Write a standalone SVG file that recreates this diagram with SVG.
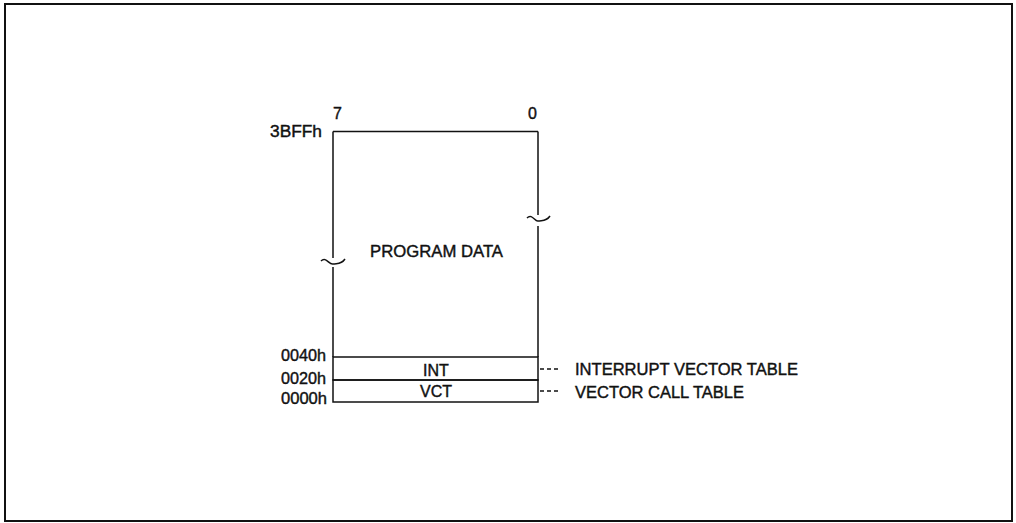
<svg xmlns="http://www.w3.org/2000/svg" width="1016" height="523" viewBox="0 0 1016 523">
<style>
text{font-family:"Liberation Sans",Arial,sans-serif;font-size:16px;fill:#111;stroke:#111;stroke-width:0.4;}
.ln{stroke:#111;stroke-width:1.5;fill:none;}
.frame{stroke:#111;stroke-width:2;fill:none;}
.dash{stroke:#111;stroke-width:1.4;stroke-dasharray:4,3;fill:none;}
.mid{text-anchor:middle;}
</style>
<rect width="1016" height="523" fill="#fff"/>
<rect class="frame" x="5" y="4" width="1007" height="517"/>
<g id="program-data">
<path class="ln" d="M333,131.5 H538 M333,131.5 V258 M333,267 V357 M538,131.5 V215 M538,226 V357"/>
<path class="ln" d="M321,261 C326,256 329,265 333,264 C337,263 341,265 345,259"/>
<path class="ln" d="M527,218 C532,213 535,222 538,221 C542,220 546,222 550,216"/>
<text x="270" y="137" textLength="52" lengthAdjust="spacingAndGlyphs">3BFFh</text>
<text x="333" y="119">7</text>
<text x="528" y="119">0</text>
<text x="370" y="257" textLength="133" lengthAdjust="spacingAndGlyphs">PROGRAM DATA</text>
</g>
<g id="int">
<rect class="ln" x="333" y="357" width="205" height="23"/>
<text class="mid" x="436" y="376">INT</text>
<text x="281" y="361" textLength="45" lengthAdjust="spacingAndGlyphs">0040h</text>
</g>
<g id="vct">
<rect class="ln" x="333" y="380" width="205" height="22"/>
<text class="mid" x="436" y="397">VCT</text>
<text x="281" y="384" textLength="45" lengthAdjust="spacingAndGlyphs">0020h</text>
<text x="281" y="404" textLength="46" lengthAdjust="spacingAndGlyphs">0000h</text>
</g>
<g id="connectors">
<path class="dash" d="M540,369 H561"/>
<path class="dash" d="M540,391 H561"/>
</g>
<g id="label-int">
<text x="575" y="375" textLength="223" lengthAdjust="spacingAndGlyphs">INTERRUPT VECTOR TABLE</text>
</g>
<g id="label-vct">
<text x="575" y="398" textLength="169" lengthAdjust="spacingAndGlyphs">VECTOR CALL TABLE</text>
</g>
</svg>
